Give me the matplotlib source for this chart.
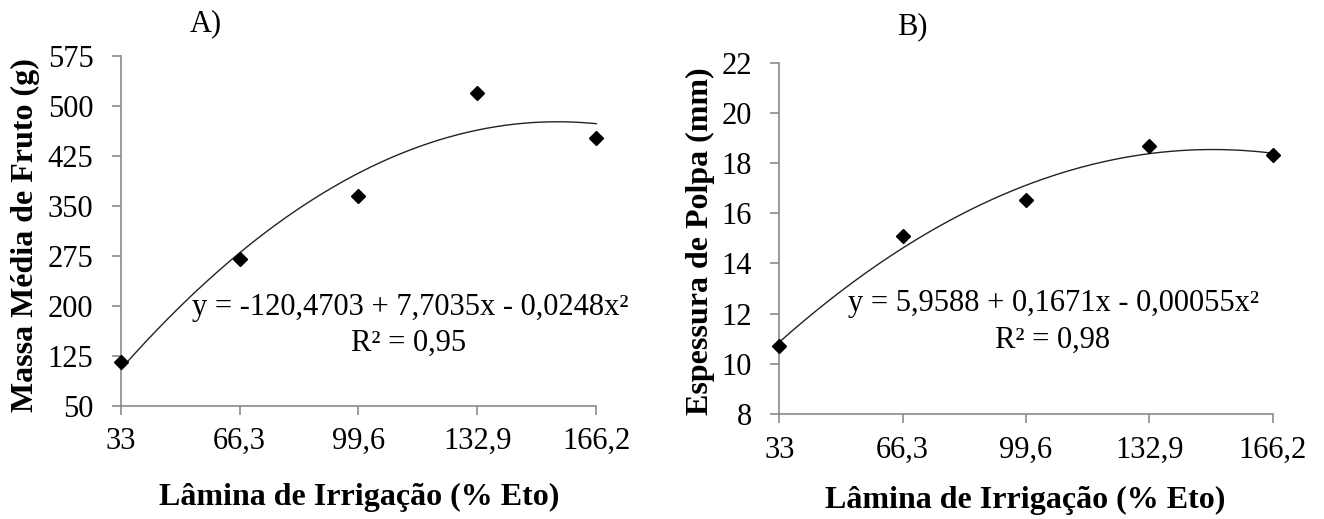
import numpy as np
import matplotlib.pyplot as plt

plt.rcParams['font.family'] = ['Liberation Serif', 'DejaVu Serif']

# irrigation levels (% ETo)
lamina = [33, 66.3, 99.6, 132.9, 166.2]
lamina_labels = ['33', '66,3', '99,6', '132,9', '166,2']

# A) mean fruit mass (g)
massa = [115, 270, 364, 519, 451]
massa_ticks = [50, 125, 200, 275, 350, 425, 500, 575]

# B) pulp thickness (mm)
polpa = [10.72, 15.10, 16.52, 18.68, 18.34]
polpa_ticks = [8, 10, 12, 14, 16, 18, 20, 22]

eq_a = 'y = -120,4703 + 7,7035x - 0,0248x²'
r2_a = 'R² = 0,95'
eq_b = 'y = 5,9588 + 0,1671x - 0,00055x²'
r2_b = 'R² = 0,98'

W, H = 1324, 519
GRAY = '#8a8a8a'
FS = 22
FS_LAB = 23

fig = plt.figure(figsize=(W / 100, H / 100), dpi=100)


def px(x, y):
    return x / W, 1 - y / H


axA = fig.add_axes([120.7 / W, 1 - 405.7 / H, 475.5 / W, 350 / H])
axB = fig.add_axes([779.3 / W, 1 - 414 / H, 493.4 / W, 351.3 / H])


def draw(ax, y, yticks, ylabel, title, eq, r2, pos):
    x = np.array(lamina)
    coef = np.polyfit(x, y, 2)
    xs = np.linspace(x[0], x[-1], 200)
    ax.plot(xs, np.polyval(coef, xs), color='#222222', lw=1, clip_on=False)
    ax.plot(x, y, 'D', color='black', ms=7.5, clip_on=False, zorder=3)
    ax.set_xlim(x[0], x[-1])
    ax.set_ylim(yticks[0], yticks[-1])
    ax.set_xticks(x)
    ax.set_xticklabels(lamina_labels)
    ax.set_yticks(yticks)
    ax.set_yticklabels([str(t) for t in yticks])
    for s in ['top', 'right']:
        ax.spines[s].set_visible(False)
    for s in ['left', 'bottom']:
        ax.spines[s].set_color(GRAY)
        ax.spines[s].set_linewidth(1.2)
    ax.tick_params(axis='both', colors=GRAY, labelcolor='black', labelsize=FS,
                   length=6.5, width=1.2, direction='out')
    ax.tick_params(axis='x', pad=9)
    ax.tick_params(axis='y', pad=13)
    fig.text(*px(*pos['xlabel']), 'Lâmina de Irrigação (% Eto)', fontsize=FS_LAB,
             fontweight='bold', ha='center', va='center')
    fig.text(*px(*pos['ylabel']), ylabel, fontsize=FS_LAB, fontweight='bold',
             rotation=90, ha='center', va='center')
    fig.text(*px(*pos['eq']), eq, fontsize=FS, ha='center', va='center')
    fig.text(*px(*pos['r2']), r2, fontsize=FS, ha='center', va='center')
    fig.text(*px(*pos['title']), title, fontsize=FS, ha='center', va='center')


draw(axA, massa, massa_ticks, 'Massa Média de Fruto (g)', 'A)', eq_a, r2_a,
     {'xlabel': (359, 497), 'ylabel': (25, 235), 'eq': (410, 307),
      'r2': (409, 343), 'title': (206, 24)})
draw(axB, polpa, polpa_ticks, 'Espessura de Polpa (mm)', 'B)', eq_b, r2_b,
     {'xlabel': (1025, 500), 'ylabel': (700, 241), 'eq': (1053, 303),
      'r2': (1053, 340), 'title': (912, 27)})

fig.savefig('out.png', dpi=100)
